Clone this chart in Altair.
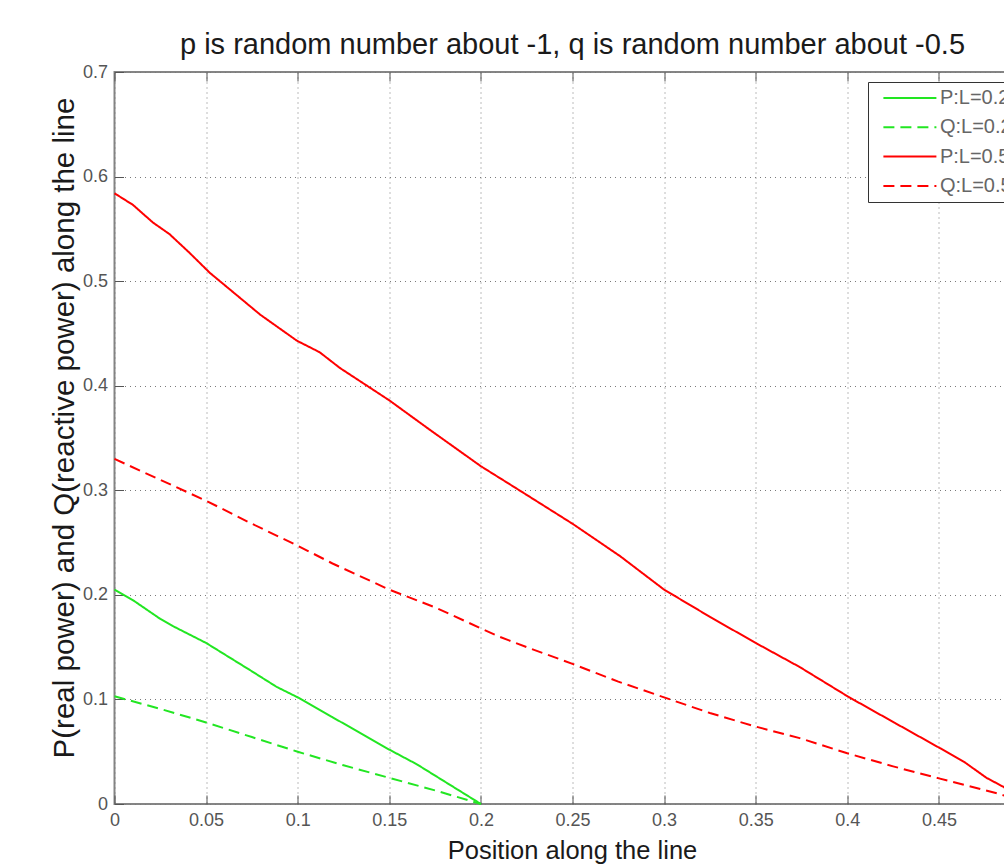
import altair as alt
import pandas as pd

series_names = ["P:L=0.2", "Q:L=0.2", "P:L=0.5", "Q:L=0.5"]
series_colors = ["#22e622", "#22e622", "#ff0000", "#ff0000"]
series_dashes = [[1, 0], [11, 6], [1, 0], [11, 6]]

# P, L = 0.2
p02_x = [0, 0.01, 0.025, 0.032, 0.05, 0.074, 0.0885, 0.1, 0.119, 0.15, 0.165, 0.2]
p02_y = [0.205, 0.195, 0.177, 0.170, 0.154, 0.128, 0.112, 0.102, 0.083, 0.052, 0.038, 0.0]
# Q, L = 0.2
q02_x = [0, 0.025, 0.05, 0.075, 0.1, 0.125, 0.15, 0.175, 0.2]
q02_y = [0.103, 0.091, 0.078, 0.064, 0.050, 0.037, 0.025, 0.013, 0.0]
# P, L = 0.5
p05_x = [0, 0.01, 0.021, 0.030, 0.041, 0.052, 0.0685, 0.0795, 0.0996, 0.112, 0.123,
         0.15, 0.172, 0.2, 0.221, 0.25, 0.276, 0.3, 0.325, 0.35, 0.374, 0.4005,
         0.426, 0.4505, 0.464, 0.476, 0.485, 0.5]
p05_y = [0.584, 0.573, 0.556, 0.545, 0.527, 0.508, 0.484, 0.468, 0.443, 0.432, 0.417,
         0.386, 0.358, 0.323, 0.300, 0.268, 0.237, 0.205, 0.179, 0.154, 0.131, 0.1026,
         0.0775, 0.0535, 0.040, 0.025, 0.0166, 0.0]
# Q, L = 0.5
q05_x = [0, 0.025, 0.05, 0.075, 0.1, 0.119, 0.15, 0.175, 0.2, 0.21, 0.225, 0.25, 0.275,
         0.3, 0.325, 0.35, 0.374, 0.4, 0.425, 0.45, 0.483, 0.5]
q05_y = [0.330, 0.310, 0.290, 0.268, 0.247, 0.230, 0.205, 0.188, 0.168, 0.160, 0.150,
         0.134, 0.117, 0.102, 0.087, 0.074, 0.063, 0.0485, 0.036, 0.0245, 0.0096, 0.0]

x_ticks = [0, 0.05, 0.1, 0.15, 0.2, 0.25, 0.3, 0.35, 0.4, 0.45, 0.5]
x_label_ticks = [0, 0.05, 0.1, 0.15, 0.2, 0.25, 0.3, 0.35, 0.4, 0.45]
y_ticks = [0, 0.1, 0.2, 0.3, 0.4, 0.5, 0.6, 0.7]

title_text = "p is random number about -1, q is random number about -0.5"
x_title = "Position along the line"
y_title = "P(real power) and Q(reactive power) along the line"

rows = []
for name, xs, ys in zip(series_names, [p02_x, q02_x, p05_x, q05_x],
                        [p02_y, q02_y, p05_y, q05_y]):
    for xv, yv in zip(xs, ys):
        rows.append({"x": xv, "y": yv, "series": name})
df = pd.DataFrame(rows)

FONT = "Liberation Sans"
W, H = 916, 732

xscale = alt.Scale(domain=[0, 0.5], nice=False, zero=False)
yscale = alt.Scale(domain=[0, 0.7], nice=False, zero=False)

legend = alt.Legend(
    title=None, orient="none", legendX=753.5, legendY=10, direction="vertical",
    symbolType="M-4,0L4,0", symbolSize=175.6, symbolStrokeWidth=2,
    symbolOffset=25.9, labelOffset=20, labelFontSize=20, labelFont=FONT,
    labelColor="#666666", rowPadding=9.3, padding=6, fillColor="white",
    strokeColor="#333333", labelLimit=0,
)

lines = alt.Chart(df).mark_line(strokeWidth=2).encode(
    x=alt.X("x:Q", scale=xscale, title=x_title,
            axis=alt.Axis(values=x_label_ticks, format="~g", grid=True, ticks=False,
                          tickSize=0, domain=False, labelPadding=7, labelFontSize=18,
                          labelFont=FONT, labelColor="#555555", titleFont=FONT,
                          titleFontSize=25.5, titleFontWeight="normal",
                          titleColor="#1a1a1a", titleX=457.5, titleY=54,
                          titleAlign="center", titleBaseline="alphabetic",
                          gridDash=[1, 4], gridColor="#7a7a7a", gridOpacity=1,
                          labelFlush=False)),
    y=alt.Y("y:Q", scale=yscale, title=y_title,
            axis=alt.Axis(values=y_ticks, format="~g", grid=True, ticks=False, tickSize=0,
                          domain=False, labelPadding=7, labelFontSize=18, labelFont=FONT,
                          labelColor="#555555", titleFont=FONT, titleFontSize=29.5,
                          titleFontWeight="normal", titleColor="#1a1a1a",
                          titleX=-41.5, titleY=355.5, titleAlign="center",
                          titleBaseline="alphabetic", titleAngle=270, gridDash=[1, 4],
                          gridColor="#7a7a7a", gridOpacity=1, labelFlush=False)),
    color=alt.Color("series:N", sort=series_names,
                    scale=alt.Scale(domain=series_names, range=series_colors),
                    legend=legend),
    strokeDash=alt.StrokeDash("series:N", sort=series_names,
                              scale=alt.Scale(domain=series_names, range=series_dashes),
                              legend=legend),
)

tick_common = dict(labels=False, domain=False, grid=False, ticks=True, tickSize=9,
                   tickColor="#555555", tickWidth=1)

inner_a = alt.Chart(df).mark_point(opacity=0).encode(
    x=alt.X("x:Q", scale=xscale, title=None,
            axis=alt.Axis(values=x_ticks, orient="top", offset=-H, **tick_common)),
    y=alt.Y("y:Q", scale=yscale, title=None,
            axis=alt.Axis(values=y_ticks, orient="right", offset=-W, **tick_common)),
)
inner_b = alt.Chart(df).mark_point(opacity=0).encode(
    x=alt.X("x:Q", scale=xscale, title=None,
            axis=alt.Axis(values=x_ticks, orient="bottom", offset=-H, **tick_common)),
    y=alt.Y("y:Q", scale=yscale, title=None,
            axis=alt.Axis(values=y_ticks, orient="left", offset=-W, **tick_common)),
)

chart = alt.layer(lines, inner_a, inner_b).resolve_axis(
    x="independent", y="independent"
).properties(
    width=W, height=H,
    title=alt.TitleParams(title_text, font=FONT, fontSize=29, fontWeight="normal",
                          color="#1a1a1a", anchor="middle", baseline="alphabetic",
                          offset=9, dy=28.5),
    padding={"left": 114.5, "top": 72, "right": 1004 - 114.5 - W, "bottom": 867 - 72 - H},
    autosize=alt.AutoSizeParams(type="none"),
    background="white",
).configure_view(stroke="#858585", strokeWidth=2)

chart.save("out.html", embed_options={"renderer": "svg", "actions": False})
